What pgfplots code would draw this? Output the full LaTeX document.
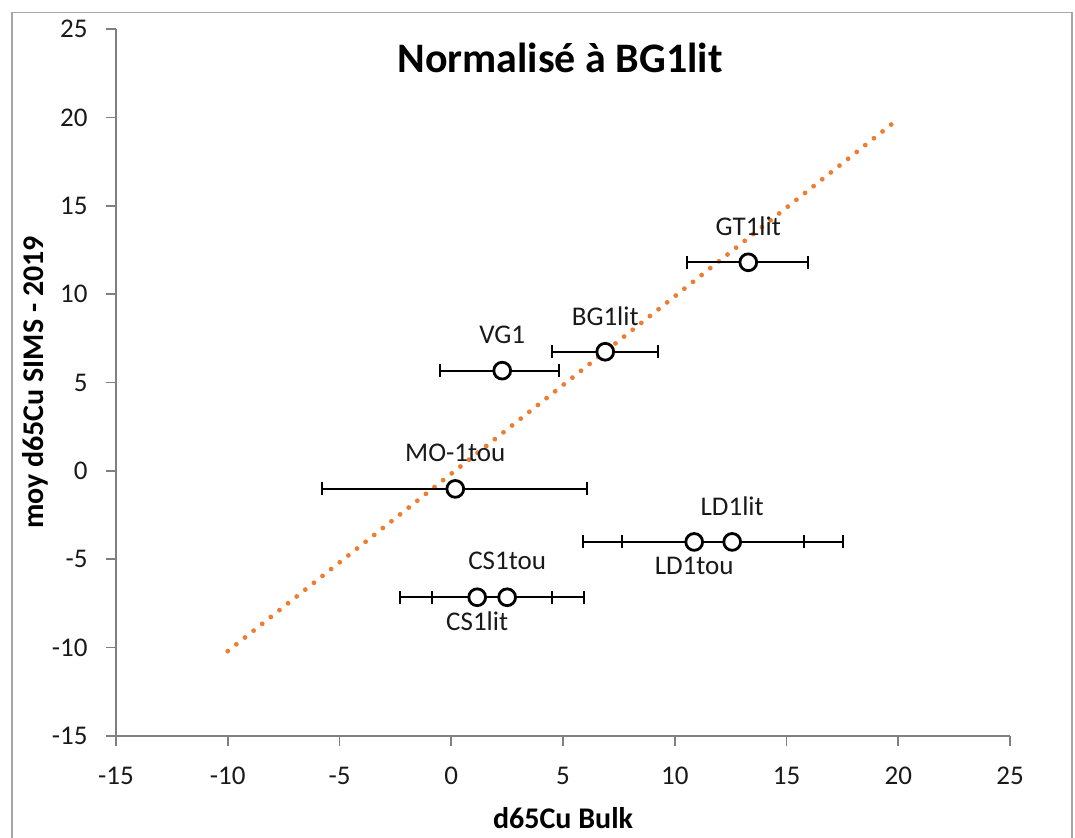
\documentclass[border=0pt]{standalone}
\usepackage{pgfplots}
\pgfplotsset{compat=1.18}
\usepackage{fontspec}
\setmainfont{Carlito}
\definecolor{trendor}{HTML}{ED7D31}
\begin{document}
\begin{tikzpicture}
\path[use as bounding box] (0pt,0pt) rectangle (537.5pt,-419pt);
\draw[black!35, line width=0.9pt] (6pt,-6.3pt) rectangle (536pt,-440pt);
\node[font=\bfseries\fontsize{21}{25}\selectfont, anchor=center] at (280pt,-29pt) {Normalisé à BG1lit};
\begin{axis}[
  at={(58pt,-368pt)}, anchor=south west,
  scale only axis, width=447pt, height=353.5pt,
  xmin=-15, xmax=25, ymin=-15, ymax=25,
  xtick={-15,-10,...,25}, ytick={-15,-10,...,25},
  axis lines*=left,
  axis line style={black!50, line width=0.8pt},
  tick style={black!50, line width=0.8pt},
  tick align=outside, major tick length=5pt,
  /pgf/number format/assume math mode=true,
  ticklabel style={font=\fontsize{13.5}{16}\selectfont, text=black!90},
  xticklabel style={anchor=center, yshift=-15pt},
  yticklabel style={anchor=east, inner sep=0pt, xshift=-9pt},
  xlabel={d65Cu Bulk},
  ylabel={moy d65Cu SIMS - 2019},
  label style={font=\bfseries\fontsize{15}{18}\selectfont},
  xlabel style={at={(axis description cs:0.5,-0.116)}, anchor=center},
  ylabel style={at={(axis description cs:-0.0906,0.5)}, anchor=center},
  clip=false,
  pt/.style={only marks, mark=*, mark size=4.2pt,
    mark options={fill=white, draw=black, line width=1.4pt},
    error bars/x dir=both, error bars/x explicit,
    error bars/error bar style={black, line width=0.9pt},
    error bars/error mark options={black, line width=0.9pt, mark size=3.25pt, rotate=90}},
  up/.style={nodes near coords={#1},
    every node near coord/.append style={anchor=center, yshift=18pt, font=\fontsize{13.5}{16}\selectfont, text=black!90}},
  down/.style={nodes near coords={#1},
    every node near coord/.append style={anchor=center, yshift=-12pt, font=\fontsize{13.5}{16}\selectfont, text=black!90}},
]
% trend line
\addplot[trendor, line width=2.4pt, line cap=round, dash pattern=on 0pt off 5.5pt] coordinates {(-10,-10.2) (19.75,19.66)};
% data points
\addplot[pt, up=GT1lit] coordinates {(13.29,11.8) += (2.68,0) -= (2.73,0)};
\addplot[pt, up=BG1lit] coordinates {(6.89,6.74) += (2.37,0) -= (2.37,0)};
\addplot[pt, up=VG1] coordinates {(2.28,5.67) += (2.55,0) -= (2.77,0)};
\addplot[pt, up=MO-1tou] coordinates {(0.18,-1.02) += (5.9,0) -= (5.95,0)};
\addplot[pt, down=LD1tou] coordinates {(10.87,-4.02) += (4.93,0) -= (4.97,0)};
\addplot[pt, up=LD1lit] coordinates {(12.57,-4.02) += (4.97,0) -= (4.92,0)};
\addplot[pt, down=CS1lit] coordinates {(1.16,-7.15) += (3.36,0) -= (3.46,0)};
\addplot[pt, up=CS1tou] coordinates {(2.5,-7.15) += (3.45,0) -= (3.35,0)};
\end{axis}
\end{tikzpicture}
\end{document}
